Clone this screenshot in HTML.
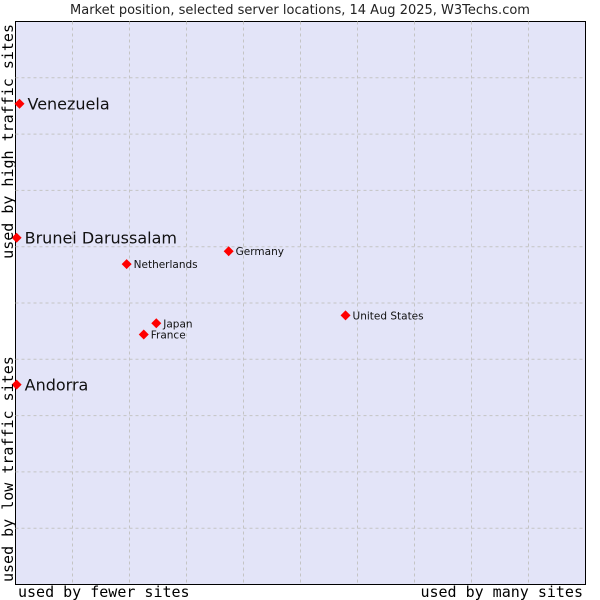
<!DOCTYPE html>
<html><head><meta charset="utf-8"><style>
body{margin:0;background:#fff;width:600px;height:600px;overflow:hidden}
svg{display:block}
</style></head><body>
<svg id="chart" width="600" height="600" xmlns="http://www.w3.org/2000/svg">
<text x="300" y="14" text-anchor="middle" font-family="DejaVu Sans, sans-serif" font-size="13" fill="#222">Market position, selected server locations, 14 Aug 2025, W3Techs.com</text>
<rect x="15.5" y="21.5" width="570" height="563" fill="#e3e4f8" stroke="#000"/>
<g id="grid"></g>
<g id="pts"></g>
<text x="18" y="597" font-family="DejaVu Sans Mono, Liberation Mono, monospace" font-size="15" fill="#000">used by fewer sites</text>
<text x="583" y="597" text-anchor="end" font-family="DejaVu Sans Mono, Liberation Mono, monospace" font-size="15" fill="#000">used by many sites</text>
<text transform="translate(13,582) rotate(-90)" font-family="DejaVu Sans Mono, Liberation Mono, monospace" font-size="15" fill="#000">used by low traffic sites</text>
<text transform="translate(13,24) rotate(-90)" text-anchor="end" font-family="DejaVu Sans Mono, Liberation Mono, monospace" font-size="15" fill="#000">used by high traffic sites</text>
</svg>
<script>
const countries=["Venezuela","Brunei Darussalam","Andorra","Netherlands","Germany","Japan","France","United States"];
const xValues=[0.7,0.2,0.2,19.5,37.4,24.7,22.5,57.9];
const yValues=[85.4,61.6,35.5,56.9,59.2,46.4,44.4,47.8];
const bigLabel=[true,true,true,false,false,false,false,false];
const L=15.5,T=21.5,W=570,H=563;
const sx=v=>L+v/100*W, sy=v=>T+H-v/100*H;
const NS="http://www.w3.org/2000/svg";
const g=document.getElementById('grid');
for(let i=1;i<10;i++){
  let a=document.createElementNS(NS,'line');
  a.setAttribute('x1',sx(i*10));a.setAttribute('x2',sx(i*10));a.setAttribute('y1',T);a.setAttribute('y2',T+H);
  a.setAttribute('stroke','#c4c4c4');a.setAttribute('stroke-dasharray','3,3');
  
  
  g.appendChild(a);
  let b=document.createElementNS(NS,'line');
  b.setAttribute('y1',sy(i*10));b.setAttribute('y2',sy(i*10));b.setAttribute('x1',L);b.setAttribute('x2',L+W);
  b.setAttribute('stroke','#c4c4c4');b.setAttribute('stroke-dasharray','3,3');
  
  
  g.appendChild(b);
}
const p=document.getElementById('pts');
countries.forEach((c,i)=>{
  const x=sx(xValues[i]),y=sy(yValues[i]);
  let d=document.createElementNS(NS,'path');
  d.setAttribute('d',`M${x} ${y-5}L${x+5} ${y}L${x} ${y+5}L${x-5} ${y}Z`);
  d.setAttribute('fill','#f00');
  
  
  p.appendChild(d);
  let t=document.createElementNS(NS,'text');
  t.setAttribute('x',x+(bigLabel[i]?8:7));
  t.setAttribute('y',y+(bigLabel[i]?6:4));
  t.setAttribute('font-family','DejaVu Sans, Liberation Sans, sans-serif');
  t.setAttribute('font-size',bigLabel[i]?'16':'10.5');
  t.setAttribute('fill','#111');
  t.textContent=c;
  
  
  p.appendChild(t);
});
</script>
</body></html>
